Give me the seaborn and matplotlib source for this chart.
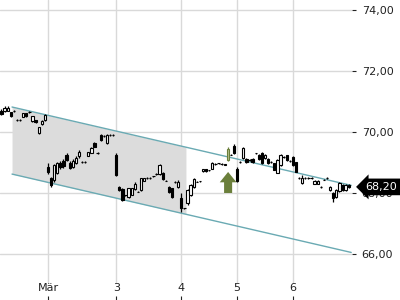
import numpy as np
import pandas as pd
import matplotlib
matplotlib.use("Agg")
import matplotlib.pyplot as plt
import matplotlib.transforms as mtransforms
import seaborn as sns

# ---------------- data ----------------
opens = [70.70, 70.68, 70.70, 70.64, 70.68, 70.40, 70.39, 70.50, 70.62, 70.66,
         70.36, 70.39, 69.97, 70.26, 70.39, 68.85, 68.49, 68.43, 68.66, 69.00,
         69.05, 69.25, 69.00, 68.85, 68.98, 69.20, 69.02, 69.00, 69.22, 69.32,
         69.64, 69.30, 69.90, 69.87, 69.65, 69.90, 69.90, 69.25, 68.18, 68.12,
         67.92, 67.88, 67.95, 68.12, 68.04, 68.10, 68.40, 68.49, 68.49, 68.55,
         68.62, 68.63, 68.66, 68.40, 68.20, 68.15, 68.36, 68.20, 67.85, 67.50,
         67.67, 67.95, 68.18, 68.37, 68.38, 68.72, 68.78, 68.75, 68.80, 68.95,
         68.98, 68.95, 68.93, 69.08, 69.25, 69.55, 68.80, 69.02, 69.15, 69.12,
         69.08, 69.12, 69.30, 69.25, 69.30, 69.15, 69.12, 69.02, 68.98, 68.66,
         68.92, 69.18, 69.24, 69.05, 69.18, 69.00, 68.49, 68.33, 68.49, 68.49,
         68.49, 68.30, 68.30, 68.20, 68.43, 68.49, 68.10, 68.00, 67.87, 68.05,
         68.26, 68.10, 68.26]
highs = [70.76, 70.85, 70.84, 70.66, 70.71, 70.42, 70.42, 70.64, 70.64, 70.68,
         70.54, 70.41, 70.18, 70.38, 70.58, 68.98, 68.52, 68.95, 69.02, 69.05,
         69.10, 69.30, 69.05, 69.10, 69.20, 69.42, 69.05, 69.05, 69.35, 69.50,
         69.68, 69.33, 69.93, 69.89, 69.92, 69.93, 69.92, 69.30, 68.22, 68.15,
         67.95, 68.17, 68.17, 68.35, 68.06, 68.50, 68.50, 68.51, 68.51, 68.57,
         68.64, 68.95, 68.68, 68.42, 68.22, 68.18, 68.38, 68.42, 68.00, 67.52,
         68.12, 68.28, 68.48, 68.39, 68.40, 68.80, 68.80, 68.77, 69.02, 68.97,
         69.00, 68.97, 68.95, 69.50, 69.27, 69.60, 68.85, 69.04, 69.50, 69.14,
         69.10, 69.14, 69.32, 69.28, 69.33, 69.28, 69.14, 69.04, 69.00, 69.10,
         69.28, 69.20, 69.26, 69.07, 69.22, 69.03, 68.51, 68.58, 68.51, 68.51,
         68.51, 68.41, 68.41, 68.22, 68.45, 68.51, 68.22, 68.02, 68.12, 68.35,
         68.28, 68.28, 68.28]
lows = [70.55, 70.65, 70.68, 70.50, 70.66, 70.37, 70.37, 70.48, 70.50, 70.64,
        70.34, 70.31, 69.95, 70.24, 70.37, 68.62, 68.20, 68.35, 68.62, 68.80,
        68.82, 69.05, 68.78, 68.82, 68.95, 69.15, 68.98, 68.98, 69.20, 69.30,
        69.50, 69.28, 69.72, 69.84, 69.62, 69.88, 69.88, 68.55, 68.08, 67.75,
        67.90, 67.85, 67.93, 68.10, 68.02, 68.08, 68.38, 68.47, 68.47, 68.53,
        68.60, 68.60, 68.44, 68.38, 68.00, 67.85, 68.34, 68.18, 67.38, 67.48,
        67.60, 67.90, 68.15, 68.35, 68.36, 68.70, 68.70, 68.73, 68.78, 68.93,
        68.96, 68.93, 68.91, 69.05, 69.23, 69.28, 68.35, 69.00, 69.12, 69.00,
        69.06, 69.00, 69.28, 69.08, 68.95, 69.13, 68.96, 69.00, 68.74, 68.64,
        68.90, 69.16, 69.06, 69.03, 68.90, 68.68, 68.47, 68.31, 68.47, 68.47,
        68.47, 68.28, 68.28, 68.18, 68.41, 68.47, 68.08, 67.70, 67.85, 68.03,
        68.08, 68.08, 68.18]
closes = [70.58, 70.80, 70.80, 70.53, 70.70, 70.39, 70.40, 70.62, 70.53, 70.67,
          70.52, 70.33, 70.16, 70.36, 70.56, 68.69, 68.26, 68.92, 68.98, 68.85,
          68.88, 69.08, 68.82, 69.06, 69.14, 69.35, 69.00, 69.02, 69.33, 69.48,
          69.52, 69.31, 69.75, 69.86, 69.90, 69.91, 69.90, 68.60, 68.10, 67.78,
          67.94, 68.15, 68.15, 68.30, 68.03, 68.48, 68.48, 68.49, 68.49, 68.55,
          68.62, 68.92, 68.46, 68.40, 68.03, 67.88, 68.36, 68.36, 67.52, 67.50,
          68.10, 68.26, 68.46, 68.37, 68.38, 68.78, 68.72, 68.75, 69.00, 68.95,
          68.98, 68.95, 68.93, 69.44, 69.25, 69.30, 68.40, 69.02, 69.47, 69.02,
          69.08, 69.02, 69.30, 69.10, 68.98, 69.25, 68.98, 69.02, 68.76, 69.08,
          69.25, 69.18, 69.08, 69.05, 68.92, 68.70, 68.49, 68.49, 68.49, 68.49,
          68.49, 68.39, 68.39, 68.20, 68.43, 68.49, 68.20, 67.84, 68.10, 68.33,
          68.10, 68.26, 68.20]
signal_day = 73                      # highlighted candle (green arrow)

chan_x = [3.4, 112.8]                # trend channel (trading-day index)
chan_upper = [70.82, 68.25]
chan_lower = [68.62, 66.05]
shade_x = [3.4, 59.5]                # shaded part of the channel

arrow_x = 73.1
arrow_from, arrow_to = 68.00, 68.69

xtick_pos = [15, 37, 58, 76, 94]
xtick_labels = ["Mär", "3", "4", "5", "6"]
ytick_vals = [66, 68, 70, 72, 74]
ytick_labels = ["66,00", "68,00", "70,00", "72,00", "74,00"]
last_label = "68,20"
last_value = 68.20

# ---------------- figure ----------------
sns.set_theme(style="white")
plt.rcParams['font.family'] = ['DejaVu Sans']

df = pd.DataFrame({"open": opens, "high": highs, "low": lows, "close": closes})
df["idx"] = np.arange(len(df))

fig = plt.figure(figsize=(4, 3), dpi=100)
ax = fig.add_axes([0, 0, 0.88, 1])
ax.set_xlim(-0.48, 113.06)
ax.set_ylim(64.49, 74.33)

grid_c = "#d9d9d9"
for xp in xtick_pos:
    ax.axvline(xp, ymin=0.06, ymax=1, color=grid_c, lw=1, zorder=0)
ax.grid(axis="y", color=grid_c, lw=1, zorder=0)
ax.grid(axis="x", visible=False)

# shaded channel section
sx = np.linspace(shade_x[0], shade_x[1], 2)
ax.fill_between(sx, np.interp(sx, chan_x, chan_lower), np.interp(sx, chan_x, chan_upper),
                color="#dcdcdc", lw=0, zorder=1)

teal = "#6aaab3"
sns.lineplot(x=chan_x, y=chan_upper, ax=ax, color=teal, lw=1, zorder=2)
sns.lineplot(x=chan_x, y=chan_lower, ax=ax, color=teal, lw=1, zorder=2)

# candles
up = df["close"] >= df["open"]
face = np.where(up, "white", "black").astype(object)
edge = np.array(["black"] * len(df), dtype=object)
face[signal_day] = "#b5bd8a"
edge[signal_day] = "#6b7f3b"
bottoms = df[["open", "close"]].min(axis=1)
heights = (df["close"] - df["open"]).abs().clip(lower=0.006)
wick_c = list(edge)
ax.vlines(df["idx"], df["low"], df["high"], colors=wick_c, lw=0.9, zorder=3)
ax.bar(df["idx"], heights, bottom=bottoms, width=0.75, color=list(face),
       edgecolor=list(edge), linewidth=0.8, zorder=4)

# green arrow
ax.arrow(arrow_x, arrow_from, 0, arrow_to - arrow_from, width=2.6, head_width=5.4,
         head_length=0.34, length_includes_head=True, color="#6b7f3b", lw=0, zorder=5)

# axes styling
for s in ax.spines.values():
    s.set_visible(False)
ax.yaxis.tick_right()
ax.set_yticks(ytick_vals)
ax.set_yticklabels(ytick_labels)
ax.tick_params(axis="y", which="both", right=True, left=False, length=3, width=0.8,
               pad=4, labelsize=8, colors="#222222")
ax.set_xticks(xtick_pos)
ax.set_xticklabels(xtick_labels)
ax.tick_params(axis="x", bottom=True, direction="in", length=3, width=0.8,
               pad=-12, labelsize=8, colors="#222222")
ax.set_xlabel("")
ax.set_ylabel("")

# last price label
trans = mtransforms.blended_transform_factory(ax.transAxes, ax.transData)
ax.text(1.083, last_value, last_label, transform=trans, color="white", fontsize=8,
        ha="center", va="center", clip_on=False, zorder=10,
        bbox=dict(boxstyle="larrow,pad=0.3", fc="black", ec="black", lw=0))

fig.savefig("out.png", dpi=100)
